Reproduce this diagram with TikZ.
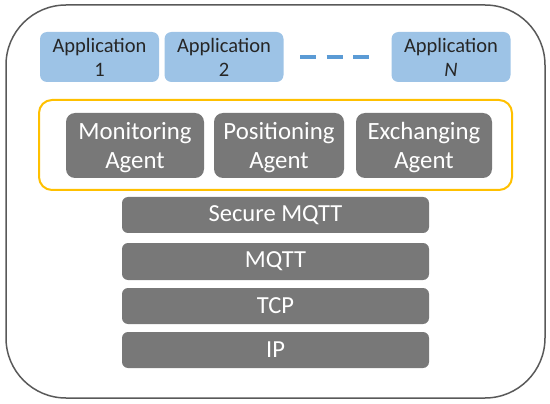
\documentclass[tikz,border=0pt]{standalone}
\usepackage{fontspec}
\setmainfont{Carlito}
\definecolor{appblue}{HTML}{9DC3E6}
\definecolor{dashblue}{HTML}{5B9BD5}
\definecolor{boxgray}{HTML}{787878}
\definecolor{agyellow}{HTML}{FFC000}
\definecolor{outline}{HTML}{595959}
\begin{document}
\begin{tikzpicture}[x=1pt,y=-1pt,
  appbox/.style={fill=appblue, rounded corners=7pt, minimum width=119pt, minimum height=50pt, text=black!85, align=center, font=\fontsize{20.5}{25}\selectfont, inner sep=0pt},
  agentbox/.style={fill=boxgray, rounded corners=9pt, minimum height=65pt, text=white, align=center, font=\fontsize{24.8}{29}\selectfont, inner sep=0pt, text depth=0pt},
  layerbox/.style={fill=boxgray, rounded corners=6pt, minimum width=307pt, minimum height=36pt, text=white, font=\fontsize{24.5}{29}\selectfont, inner sep=0pt},
  ]
\useasboundingbox (0,0) rectangle (550,404);
\draw[outline, line width=1.5pt, rounded corners=60pt] (6,5) rectangle (545,398);
% applications
\node[appbox] (a1) at (99.5,57) {Application\\[-1pt]1};
\node[appbox] (a2) at (224,57) {Application\\[-1pt]2};
\node[appbox] (an) at (451,57) {Application\\[-1pt]\textit{N}};
\coordinate (d1) at (300,57);
\coordinate (d2) at (369,57);
\draw[dashblue, line width=3.2pt, dash pattern=on 16pt off 10.5pt] (d1) -- (d2);
% agents
\node[draw=agyellow, line width=2pt, rounded corners=13pt, minimum width=473pt, minimum height=90pt, inner sep=0pt] (ag) at (275.5,145) {};
\node[agentbox, minimum width=138pt] (mon) at (135,145.5) {Monitoring\\Agent};
\node[agentbox, minimum width=130pt] (pos) at (279,145.5) {Positioning\\Agent};
\node[agentbox, minimum width=136pt] (exc) at (424,145.5) {Exchanging\\Agent};
% layers
\node[layerbox] (smqtt) at (275.5,215) {Secure MQTT};
\node[layerbox, minimum height=37pt] (mqtt) at (275.5,261.5) {MQTT};
\node[layerbox] (tcp) at (275.5,306) {TCP};
\node[layerbox] (ip) at (275.5,350) {IP};
\end{tikzpicture}
\end{document}
